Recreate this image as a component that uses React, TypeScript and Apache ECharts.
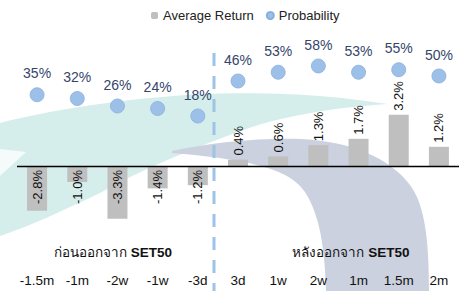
import React, { useEffect, useRef } from "react";
import * as echarts from "echarts";

const categories = ["-1.5m", "-1m", "-2w", "-1w", "-3d", "3d", "1w", "2w", "1m", "1.5m", "2m"];
const avgReturn = [-2.8, -1.0, -3.3, -1.4, -1.2, 0.4, 0.6, 1.3, 1.7, 3.2, 1.2];
const probability = [35, 32, 26, 24, 18, 46, 53, 58, 53, 55, 50];
const legendNames = ["Average Return", "Probability"];
const groupBefore = "ก่อนออกจาก";
const groupAfter = "หลังออกจาก";
const groupIndex = "SET50";

const FONT = "'Liberation Sans', Arial, 'Noto Sans', sans-serif";

const tealPath =
  "M 0 123 C 50 110 120 99 200 94 C 290 91 340 97 388 104 C 330 108 280 116 235 133 C 190 150 140 170 100 193 C 60 212 30 226 0 236 Z";
const whiteStreak = "M 0 149 L 26 152 L 0 176 Z";
const slatePath =
  "M 172 151 C 210 143 255 138 300 139 C 350 141 390 158 410 185 C 425 205 429 240 429 291 L 326 291 C 325 250 320 215 305 192 C 290 170 255 160 172 153 Z";

echarts.graphic.registerShape("wmTeal", echarts.graphic.extendPath(tealPath, {}));
echarts.graphic.registerShape("wmWhite", echarts.graphic.extendPath(whiteStreak, {}));
echarts.graphic.registerShape("wmSlate", echarts.graphic.extendPath(slatePath, {}));

export default function App() {
  const ref = useRef<HTMLDivElement>(null);
  useEffect(() => {
    if (!ref.current) return;
    const chart = echarts.init(ref.current, null, { renderer: "svg" });
    const barData = avgReturn.map((v) => ({
      value: v,
      label:
        v < 0
          ? { position: "insideTop", align: "right" }
          : { position: "top", align: "left" },
    }));
    chart.setOption({
      animation: false,
      textStyle: { fontFamily: FONT },
      legend: {
        data: legendNames,
        left: 151,
        top: 9,
        padding: 0,
        itemWidth: 7,
        itemHeight: 7,
        itemGap: 12,
        textStyle: { fontSize: 13, color: "#222", fontFamily: FONT },
      },
      grid: { left: 17, right: 6, top: 54, bottom: 29 },
      xAxis: {
        type: "category",
        data: categories,
        axisLine: { show: false },
        axisTick: { show: false },
        axisLabel: { fontSize: 13.5, color: "#111", margin: 11, fontFamily: FONT, interval: 0 },
        splitLine: { show: false },
      },
      yAxis: [
        { type: "value", min: -6, max: 7, show: false, splitLine: { show: false } },
        { type: "value", min: -98.8, max: 67.6, show: false, splitLine: { show: false } },
      ],
      graphic: [
        { type: "wmTeal", x: 0, y: 0, z: -10, silent: true, style: { fill: "#D5EEEB" } },
        { type: "wmWhite", x: 0, y: 0, z: -9, silent: true, style: { fill: "#F4FBFA" } },
        { type: "wmSlate", x: 0, y: 0, z: -10, silent: true, style: { fill: "#CBD1DF" } },
        {
          type: "line",
          z: 50,
          shape: { x1: 214, y1: 53, x2: 214, y2: 291 },
          style: { stroke: "#9DC3E6", lineWidth: 3, lineDash: [13, 10] },
        },
        {
          type: "text",
          x: 113,
          y: 252,
          z: 50,
          style: {
            text: `{a|${groupBefore} }{b|${groupIndex}}`,
            align: "center",
            verticalAlign: "middle",
            rich: {
              a: { fontSize: 13.5, fill: "#111", fontFamily: FONT },
              b: { fontSize: 13.5, fill: "#111", fontWeight: "bold", fontFamily: FONT },
            },
          },
        },
        {
          type: "text",
          x: 351,
          y: 252,
          z: 50,
          style: {
            text: `{a|${groupAfter} }{b|${groupIndex}}`,
            align: "center",
            verticalAlign: "middle",
            rich: {
              a: { fontSize: 13.5, fill: "#111", fontFamily: FONT },
              b: { fontSize: 13.5, fill: "#111", fontWeight: "bold", fontFamily: FONT },
            },
          },
        },
      ],
      series: [
        {
          name: legendNames[0],
          type: "bar",
          data: barData,
          barWidth: 20,
          itemStyle: { color: "#BFBFBF" },
          label: {
            show: true,
            rotate: 90,
            verticalAlign: "middle",
            distance: 4,
            fontSize: 13,
            color: "#111",
            fontFamily: FONT,
            formatter: (p: any) => `${Number(p.value).toFixed(1)}%`,
          },
          markLine: {
            silent: true,
            symbol: "none",
            label: { show: false },
            lineStyle: { color: "#000", width: 1.3, type: "solid" },
            data: [{ yAxis: 0 }],
          },
        },
        {
          name: legendNames[1],
          type: "scatter",
          yAxisIndex: 1,
          data: probability,
          symbol: "circle",
          symbolSize: 14,
          itemStyle: { color: "#9DC0E8", borderColor: "#89AFDD", borderWidth: 0.8, opacity: 1 },
          label: {
            show: true,
            position: "top",
            distance: 7,
            fontSize: 14,
            color: "#34456B",
            fontFamily: FONT,
            formatter: (p: any) => `${p.value}%`,
          },
        },
      ],
    });
    return () => chart.dispose();
  }, []);
  return (
    <div
      ref={ref}
      style={{ position: "fixed", left: 0, top: 0, width: 465, height: 291, background: "#fff" }}
    />
  );
}
